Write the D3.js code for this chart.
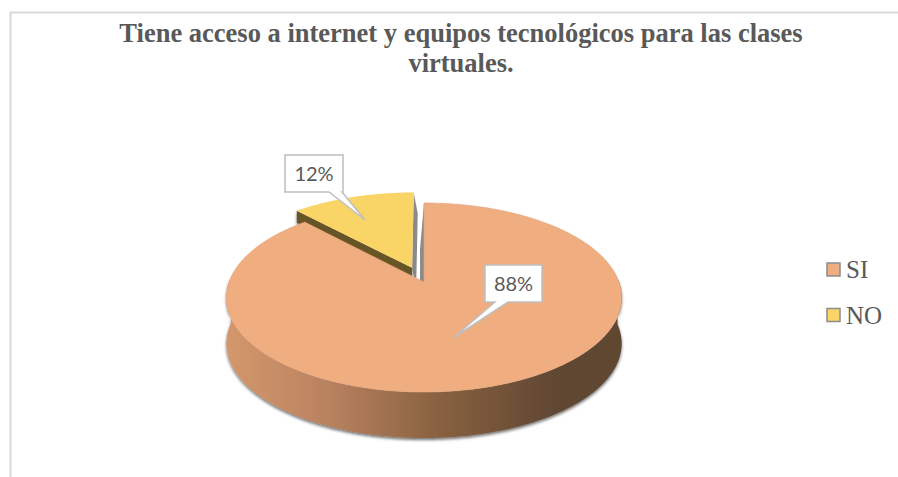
<!DOCTYPE html>
<html>
<head>
<meta charset="utf-8">
<script src="https://cdn.jsdelivr.net/npm/d3@7"></script>
<style>
  body { margin: 0; background: #fff; }
  svg { display: block; }
</style>
</head>
<body>
<div id="chart"></div>
<script>
// data
var categories = ["SI", "NO"];
var values = [88, 12];
var titleLines = ["Tiene acceso a internet y equipos tecnológicos para las clases", "virtuales."];

var faceColors = ["#f0ad80", "#f9d466"];

const W = 898, H = 477;

var svg = d3.select("#chart").append("svg")
    .attr("width", W)
    .attr("height", H);

var defs = svg.append("defs");

// wall gradient (light left -> dark right)
var grad = defs.append("linearGradient")
    .attr("id", "wallGrad")
    .attr("gradientUnits", "userSpaceOnUse")
    .attr("x1", 228).attr("y1", 0)
    .attr("x2", 560).attr("y2", 0);
grad.append("stop").attr("offset", "0%").attr("stop-color", "#d4976c");
grad.append("stop").attr("offset", "30%").attr("stop-color", "#b98260");
grad.append("stop").attr("offset", "65%").attr("stop-color", "#86603f");
grad.append("stop").attr("offset", "100%").attr("stop-color", "#5f4633");

var shadow = defs.append("filter").attr("id", "shadow")
    .attr("x", "-10%").attr("y", "-10%").attr("width", "120%").attr("height", "130%");
shadow.append("feDropShadow")
    .attr("dx", 0).attr("dy", 2)
    .attr("stdDeviation", 1.8)
    .attr("flood-color", "#000")
    .attr("flood-opacity", 0.55);

// chart border
svg.append("path")
    .attr("d", "M10.5,477 V12.5 H898")
    .attr("fill", "none")
    .attr("stroke", "#d9d9d9")
    .attr("stroke-width", 2);

// title
svg.append("text")
    .attr("x", 461)
    .attr("text-anchor", "middle")
    .style("font-family", "'Liberation Serif', 'Times New Roman', serif")
    .style("font-size", "26.5px")
    .style("font-weight", "bold")
    .style("fill", "#595959")
    .selectAll("tspan")
    .data(titleLines)
    .enter().append("tspan")
        .attr("x", 461)
        .attr("y", function(d, i) { return 42 + i * 29.5; })
        .text(function(d) { return d; });

// perspective pie
const cx = 424, cy = 282;
const A = 92, B = 195, k = 0.164, T = 46;

function proj(xn, zn, h) {
    var s = 1 + k * zn;
    return [cx + B * xn / s, cy - A * zn / s + (h || 0)];
}

var pie = d3.pie().sort(null).value(function(d) { return d; });
var arcs = pie(values);

var explode = [0, 0.17];
var line = d3.line();

arcs.forEach(function(a, i) {
    var mid = (a.startAngle + a.endAngle) / 2;
    a.ox = Math.sin(mid) * explode[i];
    a.oz = Math.cos(mid) * explode[i];
    a.pt = function(theta, r, h) {
        return proj(a.ox + r * Math.sin(theta), a.oz + r * Math.cos(theta), h);
    };
    a.rim = d3.range(a.startAngle, a.endAngle, 0.01).concat([a.endAngle]);
});

function facePath(a) {
    var pts = [a.pt(0, 0, 0)].concat(a.rim.map(function(t) { return a.pt(t, 1, 0); }));
    return line(pts) + "Z";
}

function radialWall(a, theta, dx, h) {
    var p0 = a.pt(theta, 0, 0), p1 = a.pt(theta, 1, 0);
    var p2 = a.pt(theta, 1, h), p3 = a.pt(theta, 0, h);
    p2 = [p2[0] + dx, p2[1]];
    p3 = [p3[0] + dx, p3[1]];
    return line([p0, p1, p2, p3]) + "Z";
}

function outerWall(a, h) {
    var ts = a.rim.filter(function(t) { return Math.cos(t) < 0.05; });
    var top = ts.map(function(t) { return a.pt(t, 1, 0); });
    var bot = ts.map(function(t) { return a.pt(t, 1, h); }).reverse();
    return line(top.concat(bot)) + "Z";
}

var pieG = svg.append("g");

// NO slice (exploded, behind)
var no = arcs[1];
pieG.append("path")
    .attr("d", radialWall(no, no.endAngle, 4, 12 + T * 0.2))
    .attr("fill", "#8a8a8a");
pieG.append("path")
    .attr("d", radialWall(no, no.startAngle, 0, 12))
    .attr("fill", "#675527")
    .attr("filter", "url(#shadow)");
pieG.append("path")
    .attr("d", facePath(no))
    .attr("fill", faceColors[1]);

// SI slice
var si = arcs[0];
pieG.append("path")
    .attr("d", radialWall(si, si.startAngle, -4, T))
    .attr("fill", "#8c8c8c");
pieG.append("path")
    .attr("d", outerWall(si, T))
    .attr("fill", "url(#wallGrad)")
    .attr("filter", "url(#shadow)");
pieG.append("path")
    .attr("d", facePath(si))
    .attr("fill", faceColors[0])
    .attr("stroke", "#e3a27a")
    .attr("stroke-width", 0.6);

// data label callouts
var fmt = d3.format(".0%");
var total = d3.sum(values);
var callouts = [
    {box: [485, 265, 57, 37], tip: [453, 338], base: [495, 508]},
    {box: [285, 155, 58, 37], tip: [365, 220], base: [329, 342]}
];

callouts.forEach(function(c, i) {
    var x = c.box[0], y = c.box[1], w = c.box[2], h = c.box[3];
    var pts = [[x, y], [x + w, y], [x + w, y + h], [c.base[1], y + h], c.tip, [c.base[0], y + h], [x, y + h]];
    svg.append("path")
        .attr("d", line(pts) + "Z")
        .attr("fill", "#fff")
        .attr("stroke", "#bfbfbf")
        .attr("stroke-width", 1.5);
    svg.append("text")
        .attr("x", x + w / 2)
        .attr("y", y + h / 2 + 7)
        .attr("text-anchor", "middle")
        .style("font-family", "Lato, 'Open Sans', sans-serif")
        .style("font-size", "20px")
        .style("fill", "#595959")
        .text(fmt(values[i] / total));
});

// legend
var legend = svg.append("g")
    .selectAll("g")
    .data(categories)
    .enter().append("g")
        .attr("transform", function(d, i) { return "translate(827," + (263 + i * 45.5) + ")"; });

legend.append("rect")
    .attr("width", 13)
    .attr("height", 13)
    .attr("fill", function(d, i) { return faceColors[i]; })
    .attr("stroke", "#8c8c8c")
    .attr("stroke-width", 1.5);

legend.append("text")
    .attr("x", 19)
    .attr("y", 15)
    .style("font-family", "'Liberation Serif', 'Times New Roman', serif")
    .style("font-size", "25px")
    .style("fill", "#595959")
    .text(function(d) { return d; });
</script>
</body>
</html>
